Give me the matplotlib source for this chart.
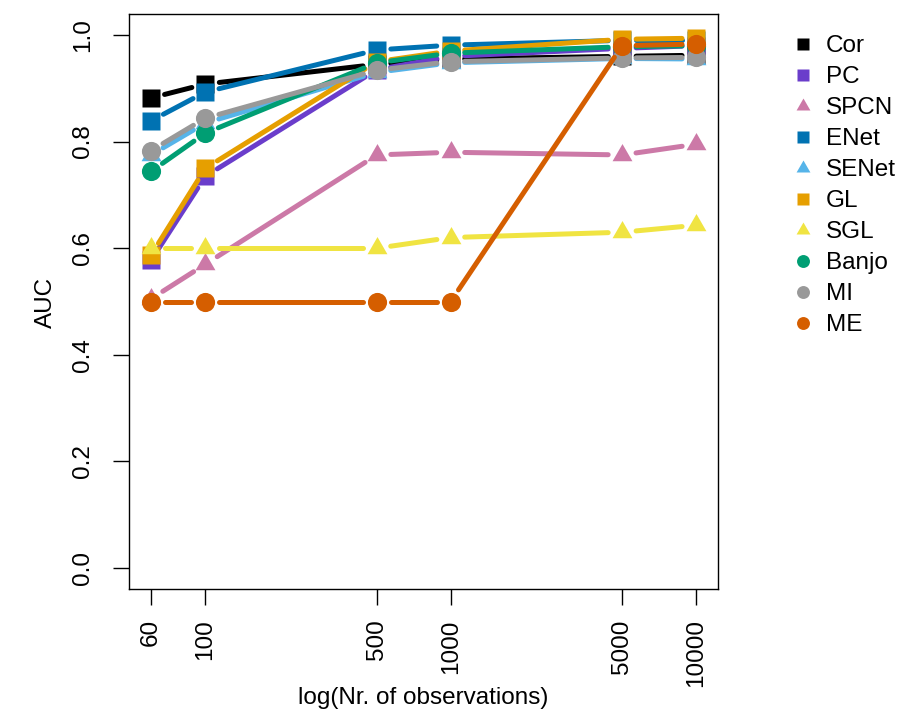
import numpy as np
import matplotlib.pyplot as plt
from matplotlib.lines import Line2D

plt.rcParams['font.family'] = ['Liberation Sans', 'DejaVu Sans']

# datos
n_obs = [60, 100, 500, 1000, 5000, 10000]
metodos = ['Cor', 'PC', 'SPCN', 'ENet', 'SENet', 'GL', 'SGL', 'Banjo', 'MI', 'ME']
auc = {
    'Cor':   [0.882, 0.908, 0.945, 0.955, 0.960, 0.962],
    'PC':    [0.577, 0.735, 0.935, 0.960, 0.975, 0.980],
    'SPCN':  [0.505, 0.570, 0.775, 0.780, 0.775, 0.795],
    'ENet':  [0.839, 0.893, 0.972, 0.981, 0.990, 0.990],
    'SENet': [0.775, 0.835, 0.930, 0.948, 0.956, 0.955],
    'GL':    [0.587, 0.750, 0.950, 0.970, 0.992, 0.994],
    'SGL':   [0.600, 0.600, 0.600, 0.620, 0.630, 0.643],
    'Banjo': [0.744, 0.816, 0.948, 0.966, 0.978, 0.980],
    'MI':    [0.783, 0.844, 0.934, 0.950, 0.957, 0.958],
    'ME':    [0.500, 0.500, 0.500, 0.500, 0.980, 0.983],
}
colores = {'Cor': '#000000', 'PC': '#6A3DCB', 'SPCN': '#CC79A7', 'ENet': '#0072B2',
           'SENet': '#56B4E9', 'GL': '#E69F00', 'SGL': '#F0E442', 'Banjo': '#009E73',
           'MI': '#999999', 'ME': '#D55E00'}

# triangulo equilatero centrado en el baricentro (como pch 17 de R)
tri = [(0, 0.577), (-0.5, -0.289), (0.5, -0.289)]
marcas = {'Cor': 's', 'PC': 's', 'SPCN': tri, 'ENet': 's', 'SENet': tri, 'GL': 's',
          'SGL': tri, 'Banjo': 'o', 'MI': 'o', 'ME': 'o'}
tam = {'s': 13.0, 'o': 13.8}
tam_tri = 16.5
fs = 17.5

W, H = 903, 715
fig = plt.figure(figsize=(W / 100, H / 100), dpi=100)
x0, x1, y0, y1 = 129.2, 717.8, 13.7, 589.3  # caja del grafico en px
ax = fig.add_axes([x0 / W, 1 - y1 / H, (x1 - x0) / W, (y1 - y0) / H])
ax.set_xscale('log')
lx = np.log10([60, 10000])
ext = 0.04 * (lx[1] - lx[0])
ax.set_xlim(10 ** (lx[0] - ext), 10 ** (lx[1] + ext))
ax.set_ylim(-0.04, 1.04)

gap = 14  # px, hueco alrededor de los puntos (type = "b")
for m in metodos:
    c = colores[m]
    pts = ax.transData.transform(np.column_stack([n_obs, auc[m]]))
    for p0, p1 in zip(pts[:-1], pts[1:]):
        d = p1 - p0
        L = np.hypot(*d)
        if L <= 2 * gap:
            continue
        u = d / L
        seg = ax.transData.inverted().transform([p0 + u * gap, p1 - u * gap])
        ax.plot(seg[:, 0], seg[:, 1], color=c, lw=3.6, solid_capstyle='round')
    mk = marcas[m]
    ms = tam_tri if isinstance(mk, list) else tam[mk]
    ax.plot(n_obs, auc[m], linestyle='none', marker=mk, ms=ms, color=c, mec='none')

ax.set_xticks(n_obs)
ax.set_xticklabels([str(v) for v in n_obs], rotation=90, va='top')
ax.minorticks_off()
ax.set_yticks([0, 0.2, 0.4, 0.6, 0.8, 1.0])
ax.set_yticklabels(['0.0', '0.2', '0.4', '0.6', '0.8', '1.0'], rotation=90, va='center')
ax.tick_params(length=11.5, width=1, labelsize=fs, color='black')
ax.tick_params(axis='x', pad=10.0)
ax.tick_params(axis='y', pad=13.5)
for s in ax.spines.values():
    s.set_linewidth(1.0)

ax.set_xlabel('log(Nr. of observations)', fontsize=fs)
ax.xaxis.set_label_coords((423 - x0) / (x1 - x0), -(687 - y1) / (y1 - y0))
ax.set_ylabel('AUC', fontsize=fs)
ax.yaxis.set_label_coords(-(x0 - 57) / (x1 - x0), (y1 - 302) / (y1 - y0))

handles = []
for m in metodos:
    mk = marcas[m]
    ms = 11.5 if isinstance(mk, list) else (9.0 if mk == 's' else 9.3)
    handles.append(Line2D([], [], linestyle='none', marker=mk, ms=ms,
                          color=colores[m], mec='none'))
fig.legend(handles, metodos, loc='upper left', bbox_to_anchor=(792 / W, 1 - 35 / H),
           frameon=False, fontsize=fs, handlelength=0.9, handletextpad=0.5,
           borderpad=0, borderaxespad=0, labelspacing=0.37)

fig.savefig('out.png', dpi=100)
